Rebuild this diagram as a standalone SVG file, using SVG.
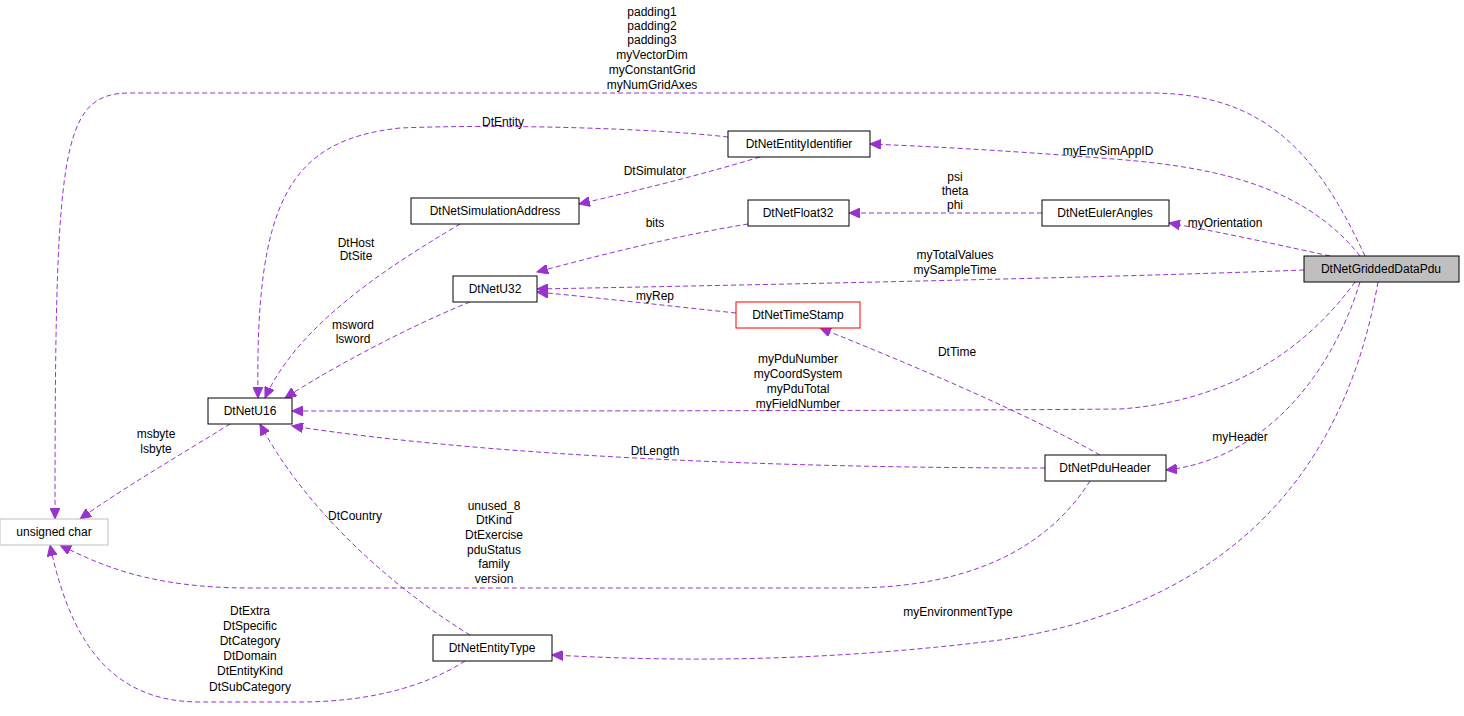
<svg xmlns="http://www.w3.org/2000/svg" width="1464" height="716" viewBox="0 0 1464 716">
<defs>
<style>
text{font-family:"Liberation Sans",Arial,sans-serif;font-size:12px;fill:#000}
.l{text-anchor:middle}
.n rect{fill:#fff;stroke:#000;stroke-width:1}
.e path{fill:none;stroke:#9a32cd;stroke-width:1;stroke-dasharray:5,3}
</style>
<marker id="a" markerWidth="12" markerHeight="10" refX="11" refY="5" orient="auto" markerUnits="userSpaceOnUse"><path d="M0,0 L11,5 L0,10 z" fill="#9a32cd" stroke="#9a32cd"/></marker>
</defs>
<rect width="1464" height="716" fill="#fff"/>
<g class="e">
<path marker-end="url(#a)" d="M1365,256 C1320,160 1270,93 1150,93 L130,93 C60,93 55,150 55,519"/>
<path marker-end="url(#a)" d="M728,137 C650,128 500,124 400,128 C290,140 255,200 258,398"/>
<path marker-end="url(#a)" d="M760,157 C700,175 640,190 579,204"/>
<path marker-end="url(#a)" d="M1360,256 C1300,180 1200,165 1100,158 C1000,150 920,146 870,144"/>
<path marker-end="url(#a)" d="M1042,213 L849,213"/>
<path marker-end="url(#a)" d="M1330,256 C1270,243 1220,232 1169,223"/>
<path marker-end="url(#a)" d="M748,224 C680,235 600,255 537,272"/>
<path marker-end="url(#a)" d="M460,224 C400,260 300,320 265,398"/>
<path marker-end="url(#a)" d="M1304,270 C1100,278 700,286 537,289"/>
<path marker-end="url(#a)" d="M736,313 C670,306 600,298 537,292"/>
<path marker-end="url(#a)" d="M470,302 C400,330 320,375 285,398"/>
<path marker-end="url(#a)" d="M1355,282 C1320,330 1250,400 1120,409 C900,411 500,411 292,411"/>
<path marker-end="url(#a)" d="M1100,455 C1020,410 900,360 820,328"/>
<path marker-end="url(#a)" d="M1045,468 C800,468 500,458 292,426"/>
<path marker-end="url(#a)" d="M1360,282 C1330,380 1260,460 1166,470"/>
<path marker-end="url(#a)" d="M230,424 C180,455 120,490 80,519"/>
<path marker-end="url(#a)" d="M1090,481 C1040,560 950,588 850,588 L250,588 C150,588 100,565 60,545"/>
<path marker-end="url(#a)" d="M470,635 C380,580 300,500 260,424"/>
<path marker-end="url(#a)" d="M1378,282 C1340,500 1200,610 1000,640 C800,665 650,660 552,655"/>
<path marker-end="url(#a)" d="M465,661 C420,690 360,702 300,702 L200,702 C110,702 70,640 50,545"/>
</g>
<g id="labels">
<text class="l" x="652" y="16">padding1</text><text class="l" x="652" y="30">padding2</text><text class="l" x="652" y="44">padding3</text><text class="l" x="652" y="59">myVectorDim</text><text class="l" x="652" y="74">myConstantGrid</text><text class="l" x="652" y="89">myNumGridAxes</text>
<text class="l" x="503" y="126">DtEntity</text>
<text class="l" x="655" y="175">DtSimulator</text>
<text class="l" x="1108" y="155">myEnvSimAppID</text>
<text class="l" x="955" y="181">psi</text><text class="l" x="955" y="195">theta</text><text class="l" x="955" y="209">phi</text>
<text class="l" x="1225" y="227">myOrientation</text>
<text class="l" x="655" y="227">bits</text>
<text class="l" x="356" y="247">DtHost</text><text class="l" x="356" y="260">DtSite</text>
<text class="l" x="955" y="259">myTotalValues</text><text class="l" x="955" y="274">mySampleTime</text>
<text class="l" x="655" y="300">myRep</text>
<text class="l" x="353" y="329">msword</text><text class="l" x="353" y="343">lsword</text>
<text class="l" x="798" y="363">myPduNumber</text><text class="l" x="798" y="378">myCoordSystem</text><text class="l" x="798" y="393">myPduTotal</text><text class="l" x="798" y="408">myFieldNumber</text>
<text class="l" x="957" y="356">DtTime</text>
<text class="l" x="655" y="455">DtLength</text>
<text class="l" x="1240" y="441">myHeader</text>
<text class="l" x="156" y="438">msbyte</text><text class="l" x="156" y="453">lsbyte</text>
<text class="l" x="494" y="510">unused_8</text><text class="l" x="494" y="524">DtKind</text><text class="l" x="494" y="539">DtExercise</text><text class="l" x="494" y="554">pduStatus</text><text class="l" x="494" y="568">family</text><text class="l" x="494" y="583">version</text>
<text class="l" x="355" y="520">DtCountry</text>
<text class="l" x="958" y="616">myEnvironmentType</text>
<text class="l" x="250" y="615">DtExtra</text><text class="l" x="250" y="630">DtSpecific</text><text class="l" x="250" y="645">DtCategory</text><text class="l" x="250" y="660">DtDomain</text><text class="l" x="250" y="675">DtEntityKind</text><text class="l" x="250" y="691">DtSubCategory</text>
</g>
<g id="DtNetGriddedDataPdu" class="n"><rect x="1304" y="256" width="155" height="26" style="fill:#bfbfbf"/><text class="l" x="1381" y="273">DtNetGriddedDataPdu</text></g>
<g id="DtNetEntityIdentifier" class="n"><rect x="728" y="131" width="142" height="26"/><text class="l" x="799" y="148">DtNetEntityIdentifier</text></g>
<g id="DtNetSimulationAddress" class="n"><rect x="411" y="198" width="168" height="26"/><text class="l" x="495" y="215">DtNetSimulationAddress</text></g>
<g id="DtNetFloat32" class="n"><rect x="748" y="200" width="101" height="26"/><text class="l" x="798" y="217">DtNetFloat32</text></g>
<g id="DtNetEulerAngles" class="n"><rect x="1042" y="200" width="127" height="26"/><text class="l" x="1105" y="217">DtNetEulerAngles</text></g>
<g id="DtNetU32" class="n"><rect x="453" y="276" width="84" height="26"/><text class="l" x="495" y="293">DtNetU32</text></g>
<g id="DtNetTimeStamp" class="n"><rect x="736" y="302" width="124" height="26" style="stroke:#f00"/><text class="l" x="798" y="319">DtNetTimeStamp</text></g>
<g id="DtNetU16" class="n"><rect x="208" y="398" width="84" height="26"/><text class="l" x="250" y="415">DtNetU16</text></g>
<g id="DtNetPduHeader" class="n"><rect x="1045" y="455" width="121" height="26"/><text class="l" x="1105" y="472">DtNetPduHeader</text></g>
<g id="unsigned_char" class="n"><rect x="0" y="519" width="108" height="26" style="stroke:#bfbfbf"/><text class="l" x="54" y="536">unsigned char</text></g>
<g id="DtNetEntityType" class="n"><rect x="433" y="635" width="119" height="26"/><text class="l" x="492" y="652">DtNetEntityType</text></g>
</svg>
